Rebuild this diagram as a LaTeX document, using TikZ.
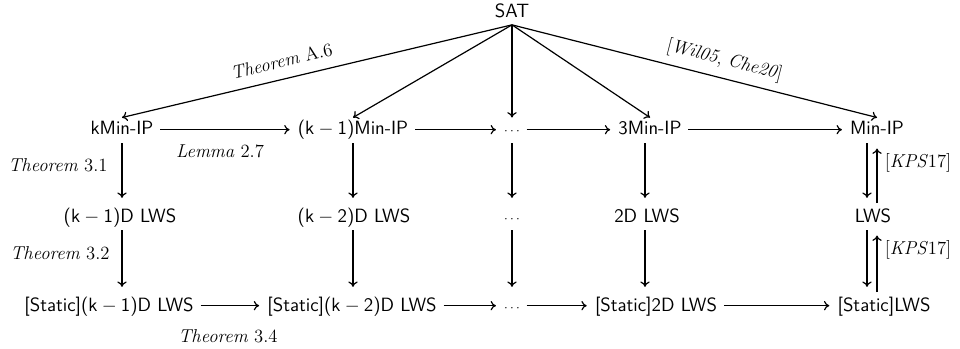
\documentclass[tikz,border=0pt]{standalone}
\usetikzlibrary{arrows.meta}
\newcommand{\mydots}{{\fontsize{10}{12}\selectfont$\cdots$}}
\begin{document}
\begin{tikzpicture}[x=0.75pt,y=-0.75pt,
  obj/.style={font=\sffamily\fontsize{14.4}{16}\selectfont, anchor=base, inner sep=3pt, text height=2.3ex, text depth=0.45ex},
  lab/.style={font=\fontsize{14}{16}\selectfont, inner sep=2pt},
  arr/.style={-{To[length=4pt,width=7pt]}, line width=0.9pt},
  harr/.style={arr, shorten <=2pt, shorten >=3pt},
  varr/.style={arr, shorten <=1pt, shorten >=5pt}]
\useasboundingbox (0,0) rectangle (960,349);
% nodes
\node[obj] (sat) at (512,18) {SAT};
\node[obj] (k)  at (122,135) {kMin-IP};
\node[obj] (k1) at (353,135) {(k${}-{}$1)Min-IP};
\node[obj] (d1) at (512,135) {\mydots};
\node[obj] (m3) at (650,135) {3Min-IP};
\node[obj] (m)  at (877,135) {Min-IP};
\node[obj] (l1) at (120,222) {(k${}-{}$1)D LWS};
\node[obj] (l2) at (354,222) {(k${}-{}$2)D LWS};
\node[obj] (d2) at (512,222) {\mydots};
\node[obj] (l3) at (647,222) {2D LWS};
\node[obj] (l)  at (873,222) {LWS};
\node[obj] (s1) at (109,311) {[Static](k${}-{}$1)D LWS};
\node[obj] (s2) at (352,311) {[Static](k${}-{}$2)D LWS};
\node[obj] (d3) at (512,311) {\mydots};
\node[obj] (s3) at (656,311) {[Static]2D LWS};
\node[obj] (s)  at (884,311) {[Static]LWS};
\coordinate (c1) at (122,0);
\coordinate (c2) at (353,0);
\coordinate (c3) at (512,0);
\coordinate (c4) at (645,0);
\coordinate (ca) at (867,0);
\coordinate (cb) at (877,0);
% SAT arrows
\draw[arr] (sat.south) -- (k.north) node[lab,pos=0.58,above=6pt,sloped] {\textit{Theorem} A.6};
\draw[arr] (sat.south) -- (k1.north);
\draw[arr] (sat.south) -- (d1.north);
\draw[arr] (sat.south) -- (m3.north);
\draw[arr] (sat.south) -- (m.north) node[lab,pos=0.57,above=4pt,sloped] {[\textit{Wil05}, \textit{Che20}]};
% row 1
\draw[harr] (k.east) -- (k1.west);
\draw[harr] (k1.east) -- (d1.west);
\draw[harr] (d1.east) -- (m3.west);
\draw[harr] (m3.east) -- (m.west);
% row 3
\draw[harr] (s1.east) -- (s2.west);
\draw[harr] (s2.east) -- (d3.west);
\draw[harr] (d3.east) -- (s3.west);
\draw[harr] (s3.east) -- (s.west);
% verticals
\draw[varr] (k.south -| c1) -- (l1.north -| c1);
\draw[varr] (k1.south -| c2) -- (l2.north -| c2);
\draw[varr] (d1.south -| c3) -- (d2.north -| c3);
\draw[varr] (m3.south -| c4) -- (l3.north -| c4);
\draw[varr] (l1.south -| c1) -- (s1.north -| c1);
\draw[varr] (l2.south -| c2) -- (s2.north -| c2);
\draw[varr] (d2.south -| c3) -- (d3.north -| c3);
\draw[varr] (l3.south -| c4) -- (s3.north -| c4);
\draw[varr] (m.south -| ca) -- (l.north -| ca);
\draw[varr] (l.north -| cb) -- (m.south -| cb);
\draw[varr] (l.south -| ca) -- (s.north -| ca);
\draw[varr] (s.north -| cb) -- (l.south -| cb);
% labels
\node[lab] (t31) at (58,165) {\textit{Theorem} 3.1};
\node[lab] (t32) at (60,253) {\textit{Theorem} 3.2};
\node[lab] (l27) at (220,151) {\textit{Lemma} 2.7};
\node[lab] (t34) at (228,336) {\textit{Theorem} 3.4};
\node[lab] (kp1) at (918,163) {[\textit{KPS}17]};
\node[lab] (kp2) at (918,250) {[\textit{KPS}17]};
\end{tikzpicture}
\end{document}
